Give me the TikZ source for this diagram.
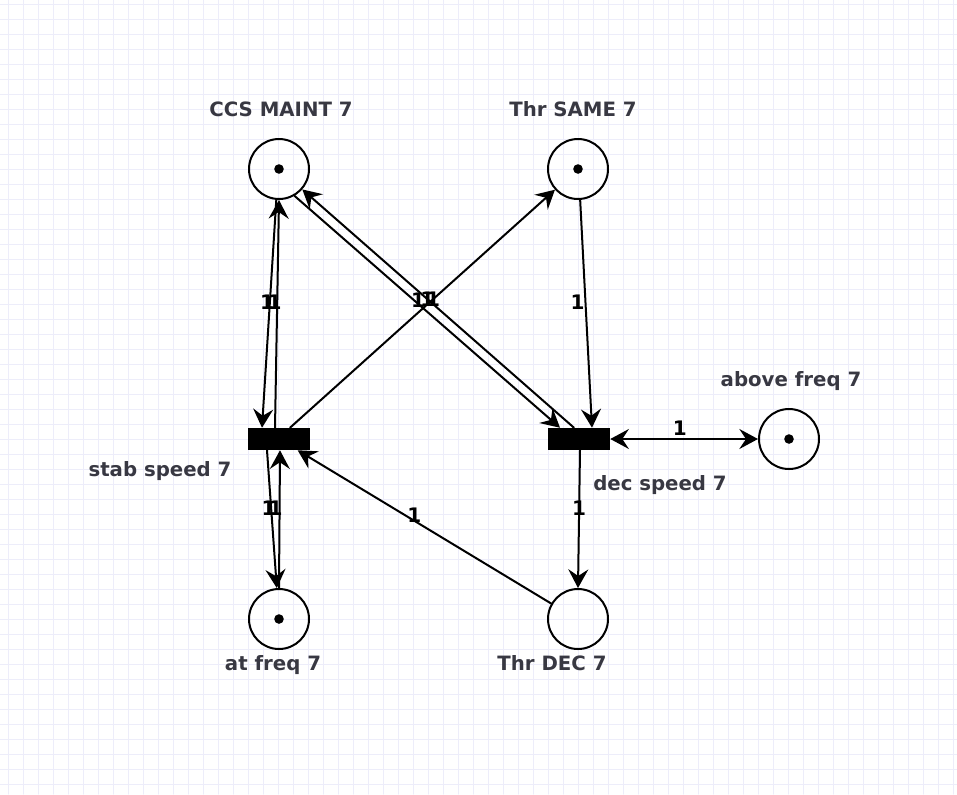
\documentclass[tikz,border=0pt]{standalone}
\usepackage{fontspec}
\setmainfont{DejaVu Sans}
\usetikzlibrary{arrows.meta,calc}
\definecolor{gridc}{RGB}{237,237,250}
\definecolor{txtc}{RGB}{56,56,66}
\begin{document}
\begin{tikzpicture}[x=0.75pt, y=-0.75pt, line join=round, line cap=round,
	>={Stealth[length=14pt,width=15pt,inset=5pt]},
	font=\bfseries\fontsize{14.8}{17}\selectfont,
	place/.style={circle, draw, line width=1.5pt, minimum size=45pt, inner sep=0pt},
	trans/.style={rectangle, fill=black, minimum width=46.5pt, minimum height=16.5pt, inner sep=0pt},
	arc/.style={->, line width=1.5pt},
	txt/.style={text=txtc, anchor=base, inner sep=0pt},
	lbl/.style={text=black, inner sep=0pt, font=\bfseries\fontsize{15}{15}\selectfont},
	gridline/.style={gridc, line width=0.75pt}]
	\useasboundingbox (0,0) rectangle (957,794);
	\fill[white] (0,0) rectangle (957,794);
	\foreach \k in {0,1,...,63}
	\draw[gridline] ({8.5+15*\k},0) -- ({8.5+15*\k},794);
	\foreach \k in {0,1,...,52}
	\draw[gridline] (0,{4.5+15*\k}) -- (957,{4.5+15*\k});
	% places and transitions
	\foreach \n/\x/\y in {ccs/279/169, same/578/169, above/789/439, atfreq/279/619, thrdec/578/619}
	\node[place] (\n) at (\x,\y) {};
	\node[trans] (stab) at (279,439) {};
	\node[trans] (dec) at (579,439) {};
	\foreach \n in {ccs, same, above, atfreq}
	\fill (\n) circle (3.6pt);
	% names
	\node[txt] (ccstxt) at (281,116) {CCS MAINT 7};
	\node[txt] (sametxt) at (573,116) {Thr SAME 7};
	\node[txt] (abovetxt) at (791,386) {above freq 7};
	\node[txt] (stabtxt) at (160,476) {stab speed 7};
	\node[txt] (dectxt) at (660,490) {dec speed 7};
	\node[txt] (attxt) at (273,670) {at freq 7};
	\node[txt] (thrdectxt) at (552,670) {Thr DEC 7};
	% arcs
	\draw[arc] (ccs.-95) -- ($(stab.north)+(-17,0)$) node[lbl, pos=0.45, xshift=-2pt] {1};
	\draw[arc] ($(stab.north)+(-4,0)$) -- (ccs.south) node[lbl, pos=0.55, xshift=-2pt] {1};
	\draw[arc] ($(stab.north)+(11,0)$) -- (same) node[lbl, pos=0.54] {1};
	\draw[arc] ($(dec.north)+(-5,0)$) -- (ccs) node[lbl, pos=0.54] {1};
	\draw[arc] (ccs.-60) -- ($(dec.north)+(-19,0)$) node[lbl, pos=0.45, xshift=3pt] {1};
	\draw[arc] (same.-86) -- ($(dec.north)+(13,0)$) node[lbl, pos=0.45, xshift=-6pt] {1};
	\draw[arc, <->] (dec.east) -- (above.west) node[lbl, pos=0.47, yshift=8pt] {1};
	\draw[arc] ($(dec.south)+(1,0)$) -- (thrdec.north) node[lbl, pos=0.42] {1};
	\draw[arc] (thrdec.150) -- (stab) node[lbl, pos=0.54, yshift=4pt] {1};
	\draw[arc] ($(stab.south)+(-12,0)$) -- (atfreq.94) node[lbl, pos=0.42, xshift=-2pt] {1};
	\draw[arc] (atfreq.north) -- ($(stab.south)+(1,0)$) node[lbl, pos=0.58, xshift=-3pt] {1};
\end{tikzpicture}
\end{document}
